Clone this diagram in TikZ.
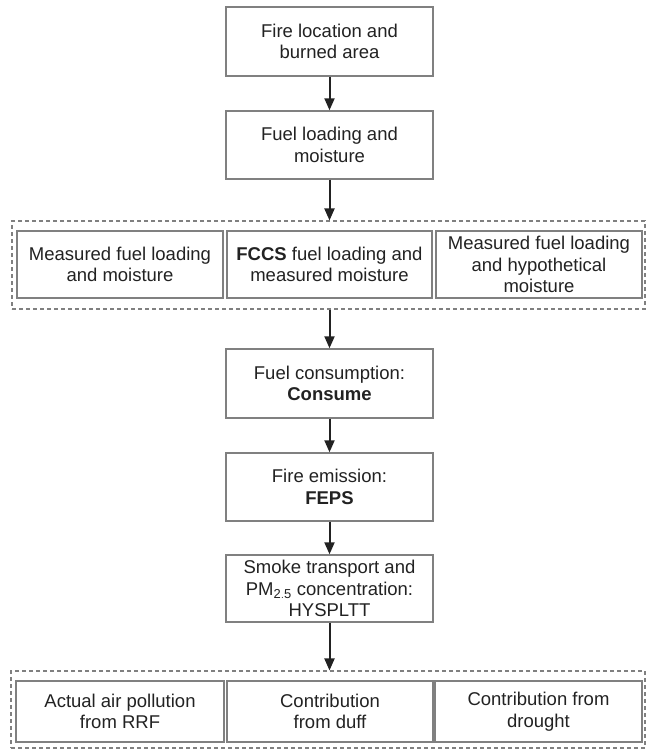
\documentclass[tikz,border=0pt]{standalone}
\usepackage{fontspec}
\setmainfont{Liberation Sans}
\usetikzlibrary{arrows.meta}
\definecolor{boxgray}{HTML}{808080}
\definecolor{txt}{HTML}{222222}
\begin{document}
\begin{tikzpicture}[x=1pt,y=-1pt,
  box/.style={draw=boxgray, line width=1.4pt, fill=white, text=txt, align=center,
    inner sep=0pt, font=\fontsize{18.5}{21.7}\selectfont},
  grp/.style={draw=boxgray, line width=1.1pt, dash pattern=on 4pt off 3pt, inner sep=0pt},
  arr/.style={draw=txt, line width=2pt, -{Triangle[length=12pt,width=10pt]}}]
\useasboundingbox (0,0) rectangle (645,749);
% top chain
\node[box, minimum width=207pt, minimum height=69pt] (fire) at (329.5,41.5) {Fire location and\\burned area};
\node[box, minimum width=207pt, minimum height=68pt] (fuel) at (329.5,145) {Fuel loading and\\moisture};
% group 1
\node[grp, minimum width=633pt, minimum height=88pt] (g1) at (328.5,265) {};
\node[box, minimum width=206pt, minimum height=67pt] (m1) at (120,264.5) {Measured fuel loading\\and moisture};
\node[box, minimum width=205pt, minimum height=67pt] (m2) at (329.5,264.5) {\textbf{FCCS} fuel loading and\\measured moisture};
\node[box, minimum width=206pt, minimum height=67pt] (m3) at (539,264.5) {Measured fuel loading\\and hypothetical\\moisture};
% middle chain
\node[box, minimum width=207pt, minimum height=69pt] (cons) at (329.5,383.5) {Fuel consumption:\\\textbf{Consume}};
\node[box, minimum width=207pt, minimum height=68pt] (feps) at (329.5,487) {Fire emission:\\\textbf{FEPS}};
\node[box, minimum width=207pt, minimum height=67pt] (smoke) at (329.5,588.5) {Smoke transport and\\PM$_{\mathrm{2.5}}$ concentration:\\HYSPLTT};
% group 2
\node[grp, minimum width=634pt, minimum height=77pt] (g2) at (328,709.5) {};
\node[box, minimum width=208pt, minimum height=61pt] (r1) at (120,711.5) {Actual air pollution\\from RRF};
\node[box, minimum width=206pt, minimum height=61pt] (r2) at (330,711.5) {Contribution\\from duff};
\node[box, minimum width=207pt, minimum height=61pt] (r3) at (538.5,711.5) {Contribution from\\drought};
% arrows
\draw[arr] (fire.south) -- (fuel.north);
\draw[arr] (fuel.south) -- (fuel.south |- g1.north);
\draw[arr] (cons.north |- g1.south) -- (cons.north);
\draw[arr] (cons.south) -- (feps.north);
\draw[arr] (feps.south) -- (smoke.north);
\draw[arr] (smoke.south) -- (smoke.south |- g2.north);
\end{tikzpicture}
\end{document}
